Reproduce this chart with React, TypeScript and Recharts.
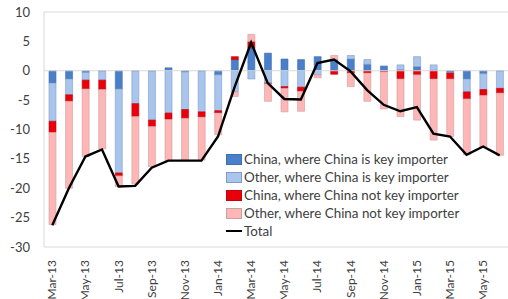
import {
  ComposedChart,
  Bar,
  Line,
  XAxis,
  YAxis,
  Legend,
  ReferenceLine,
} from "recharts";

const months = [
  "Mar-13", "Apr-13", "May-13", "Jun-13", "Jul-13", "Aug-13", "Sep-13",
  "Oct-13", "Nov-13", "Dec-13", "Jan-14", "Feb-14", "Mar-14", "Apr-14",
  "May-14", "Jun-14", "Jul-14", "Aug-14", "Sep-14", "Oct-14", "Nov-14",
  "Dec-14", "Jan-15", "Feb-15", "Mar-15", "Apr-15", "May-15", "Jun-15",
];

const chinaKey = [
  -2.1, -1.4, -0.3, -0.1, -3.1, -0.1, -0.1, 0.5, -0.2, -0.1, -0.7, 1.9, 3.9, 3.0,
  2.0, 1.9, 2.4, 1.9, 2.0, 1.1, 0.8, 0.2, 0.7, 0.1, -0.3, -1.4, -0.5, -0.1,
];
const otherKey = [
  -6.5, -2.7, -1.3, -1.5, -14.3, -5.5, -8.3, -7.2, -6.4, -6.9, -6.1, -3.6, -1.4, -2.1,
  -2.7, -2.8, -0.7, 0, 0.6, 0.8, -0.1, 0.8, 1.7, 0.9, -0.1, -2.2, -2.7, -2.9,
];
const chinaNotKey = [
  -1.9, -1.1, -1.5, -1.6, -0.5, -2.2, -1.1, -1.1, -1.5, -0.9, -0.4, 0.5, 1.1, -0.1,
  -0.3, -0.7, 0, -0.6, -0.4, -0.4, -0.1, -1.4, -0.7, -1.4, -1.0, -1.2, -1.0, -0.8,
];
const otherNotKey = [
  -15.7, -14.8, -11.5, -10.1, -1.8, -11.5, -6.8, -7.0, -7.1, -7.3, -3.7, -0.8, 1.2, -3.0,
  -4.0, -3.4, -0.5, 0.7, -2.3, -4.8, -6.3, -6.4, -7.7, -10.4, -9.8, -9.5, -8.8, -10.6,
];
const total = [
  -26.3, -20.0, -14.6, -13.4, -19.7, -19.6, -16.5, -15.3, -15.3, -15.3, -11.2, -2.8, 4.8, -2.1,
  -4.8, -4.9, 1.3, 1.9, -0.1, -3.3, -5.8, -6.9, -6.2, -10.7, -11.2, -14.3, -12.9, -14.4,
];

const yTicks = [10, 5, 0, -5, -10, -15, -20, -25, -30];

const data = months.map((m, i) => ({
  month: m,
  chinaKey: chinaKey[i],
  otherKey: otherKey[i],
  chinaNotKey: chinaNotKey[i],
  otherNotKey: otherNotKey[i],
  total: total[i],
}));

const FONT = "Lato, 'Open Sans', sans-serif";

const legendItems = [
  { label: "China, where China is key importer", fill: "#4A7FC9", stroke: "#3F6EAE" },
  { label: "Other, where China is key importer", fill: "#A9C5EC", stroke: "#7E9CC9" },
  { label: "China, where China not key importer", fill: "#E8000C", stroke: "#C80008" },
  { label: "Other, where China not key importer", fill: "#FFB6B6", stroke: "#C9A0A0" },
];

const ChartLegend = () => (
  <div style={{ fontFamily: FONT, fontSize: 13.4, color: "#404040", lineHeight: "18px" }}>
    {legendItems.map((it) => (
      <div key={it.label} style={{ display: "flex", alignItems: "center", whiteSpace: "nowrap" }}>
        <span
          style={{
            display: "inline-block",
            width: 14,
            height: 9,
            background: it.fill,
            border: `1px solid ${it.stroke}`,
            marginRight: 2,
          }}
        />
        {it.label}
      </div>
    ))}
    <div style={{ display: "flex", alignItems: "center" }}>
      <span
        style={{
          display: "inline-block",
          width: 16,
          height: 2,
          background: "#000",
          marginRight: 2,
        }}
      />
      Total
    </div>
  </div>
);

// eslint-disable-next-line @typescript-eslint/no-explicit-any
const MonthTick = (props: any) => {
  const { x, y, payload } = props;
  return (
    <text
      x={x + 4}
      y={y + 5}
      transform={`rotate(-90 ${x + 4} ${y + 5})`}
      textAnchor="end"
      fontFamily={FONT}
      fontSize={12}
      fill="#404040"
    >
      {payload.value}
    </text>
  );
};

export default function App() {
  return (
    <div style={{ position: "absolute", left: 0, top: 0, background: "#fff" }}>
      <ComposedChart
        width={508}
        height={315}
        data={data}
        stackOffset="sign"
        barSize={7}
        margin={{ top: 12, right: 0, bottom: 0, left: 0 }}
      >
        <XAxis
          dataKey="month"
          interval={1}
          height={68}
          tickLine={false}
          axisLine={{ stroke: "#d9d9d9" }}
          tick={<MonthTick />}
        />
        <YAxis
          domain={[-30, 10]}
          ticks={yTicks}
          width={44}
          tickLine={false}
          axisLine={{ stroke: "#d9d9d9" }}
          tick={{ fontFamily: FONT, fontSize: 13, fill: "#404040" }}
          tickMargin={8}
        />
        <ReferenceLine y={0} stroke="#d9d9d9" />
        <ReferenceLine y={10} stroke="#d9d9d9" />
        <Bar dataKey="chinaKey" stackId="a" fill="#4A7FC9" stroke="#3F6EAE" strokeWidth={0.6} isAnimationActive={false} />
        <Bar dataKey="otherKey" stackId="a" fill="#A9C5EC" stroke="#7E9CC9" strokeWidth={0.6} isAnimationActive={false} />
        <Bar dataKey="chinaNotKey" stackId="a" fill="#E8000C" stroke="#C80008" strokeWidth={0.6} isAnimationActive={false} />
        <Bar dataKey="otherNotKey" stackId="a" fill="#FFB6B6" stroke="#C9A0A0" strokeWidth={0.6} isAnimationActive={false} />
        <Line
          dataKey="total"
          stroke="#000"
          strokeWidth={2.4}
          dot={false}
          type="linear"
          isAnimationActive={false}
        />
        <Legend
          layout="vertical"
          align="center"
          verticalAlign="middle"
          content={<ChartLegend />}
          wrapperStyle={{ position: "absolute", left: 226, top: 150, width: "auto" }}
        />
      </ComposedChart>
    </div>
  );
}
